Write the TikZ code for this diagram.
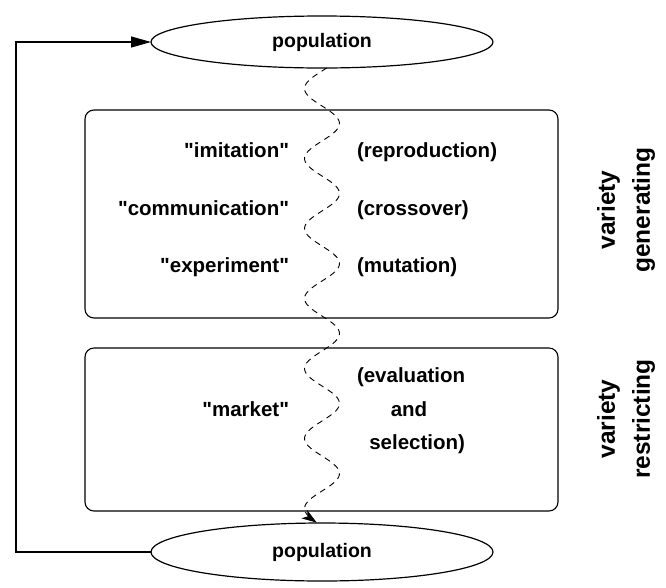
\documentclass[tikz,border=0pt]{standalone}
\usepackage{fontspec}
\setmainfont{Liberation Sans}
\usetikzlibrary{shapes.geometric,arrows.meta,calc}

\tikzset{
  every node/.style={inner sep=0pt, outer sep=0pt},
  popnode/.style={ellipse, draw, line width=1.2pt, minimum width=342pt,
                  minimum height=52pt, font=\fontsize{19.5}{23}\selectfont\bfseries},
  panel/.style={draw, line width=1.1pt, rounded corners=9pt, minimum width=473pt},
  label/.style={font=\fontsize{20.5}{24}\selectfont\bfseries},
  sidelabel/.style={rotate=90, align=center,
                    font=\fontsize{24.5}{35}\selectfont\bfseries},
  wave/.style={line width=0.9pt, dash pattern=on 6pt off 5pt,
               -{Stealth[length=15pt,width=10pt,inset=4pt,line width=0.9pt]}},
  feedback/.style={line width=1.2pt, -{Triangle[length=20pt,width=11pt]}}
}
\newcommand{\qq}[1]{\textquotedbl#1\textquotedbl}

\begin{document}
\begin{tikzpicture}[x=1pt, y=-1pt]
  \useasboundingbox (0,0) rectangle (666,587);

  % the two populations
  \node[popnode] (pt) at (322,42) {population};
  \node[popnode, minimum height=58pt] (pb) at (322,552) {population};

  % variety generating operators
  \node[panel, minimum height=208pt] (gen) at (321.5,214) {};
  \node[label, anchor=mid east] (imi) at (289,155) {\qq{imitation}};
  \node[label, anchor=mid east] (com) at (289,213) {\qq{communication}};
  \node[label, anchor=mid east] (exp) at (289,270) {\qq{experiment}};
  \node[label, anchor=mid west] (rep) at (357,155) {(reproduction)};
  \node[label, anchor=mid west] (cro) at (357,213) {(crossover)};
  \node[label, anchor=mid west] (mut) at (357,270) {(mutation)};

  % variety restricting operators
  \node[panel, minimum height=163pt] (res) at (321.5,429.5) {};
  \node[label, anchor=mid east] (mkt) at (289,414) {\qq{market}};
  \node[label, anchor=mid west] (eva) at (357,380) {(evaluation};
  \node[label, anchor=mid] (and) at (409,414) {and};
  \node[label, anchor=mid east] (sel) at (465,447) {selection)};

  % side captions
  \node[sidelabel] (capg) at (626,210) {variety\\generating};
  \node[sidelabel] (capr) at (626,419) {variety\\restricting};

  % flow through the operators: a sine wave from one population to the next
  % (\n1 = run length, \n2 = total phase in degrees for a 70pt wavelength)
  \draw[wave] let \p1=(pt.south), \p2=(pb.north),
                  \n1={\y1-\y2}, \n2={(\y1-\y2)/70*360} in
    plot[variable=\t, domain=0:1, samples=220, smooth]
      ({\x1 - 17.5*sin(\t*\n2 - 15.4)}, {\y1 - \t*\n1});

  % feedback loop back to the start population
  \coordinate (corner) at (16,0);
  \draw[feedback] (pb.west) -- (pb.west -| corner) |- (pt.west);
\end{tikzpicture}
\end{document}
